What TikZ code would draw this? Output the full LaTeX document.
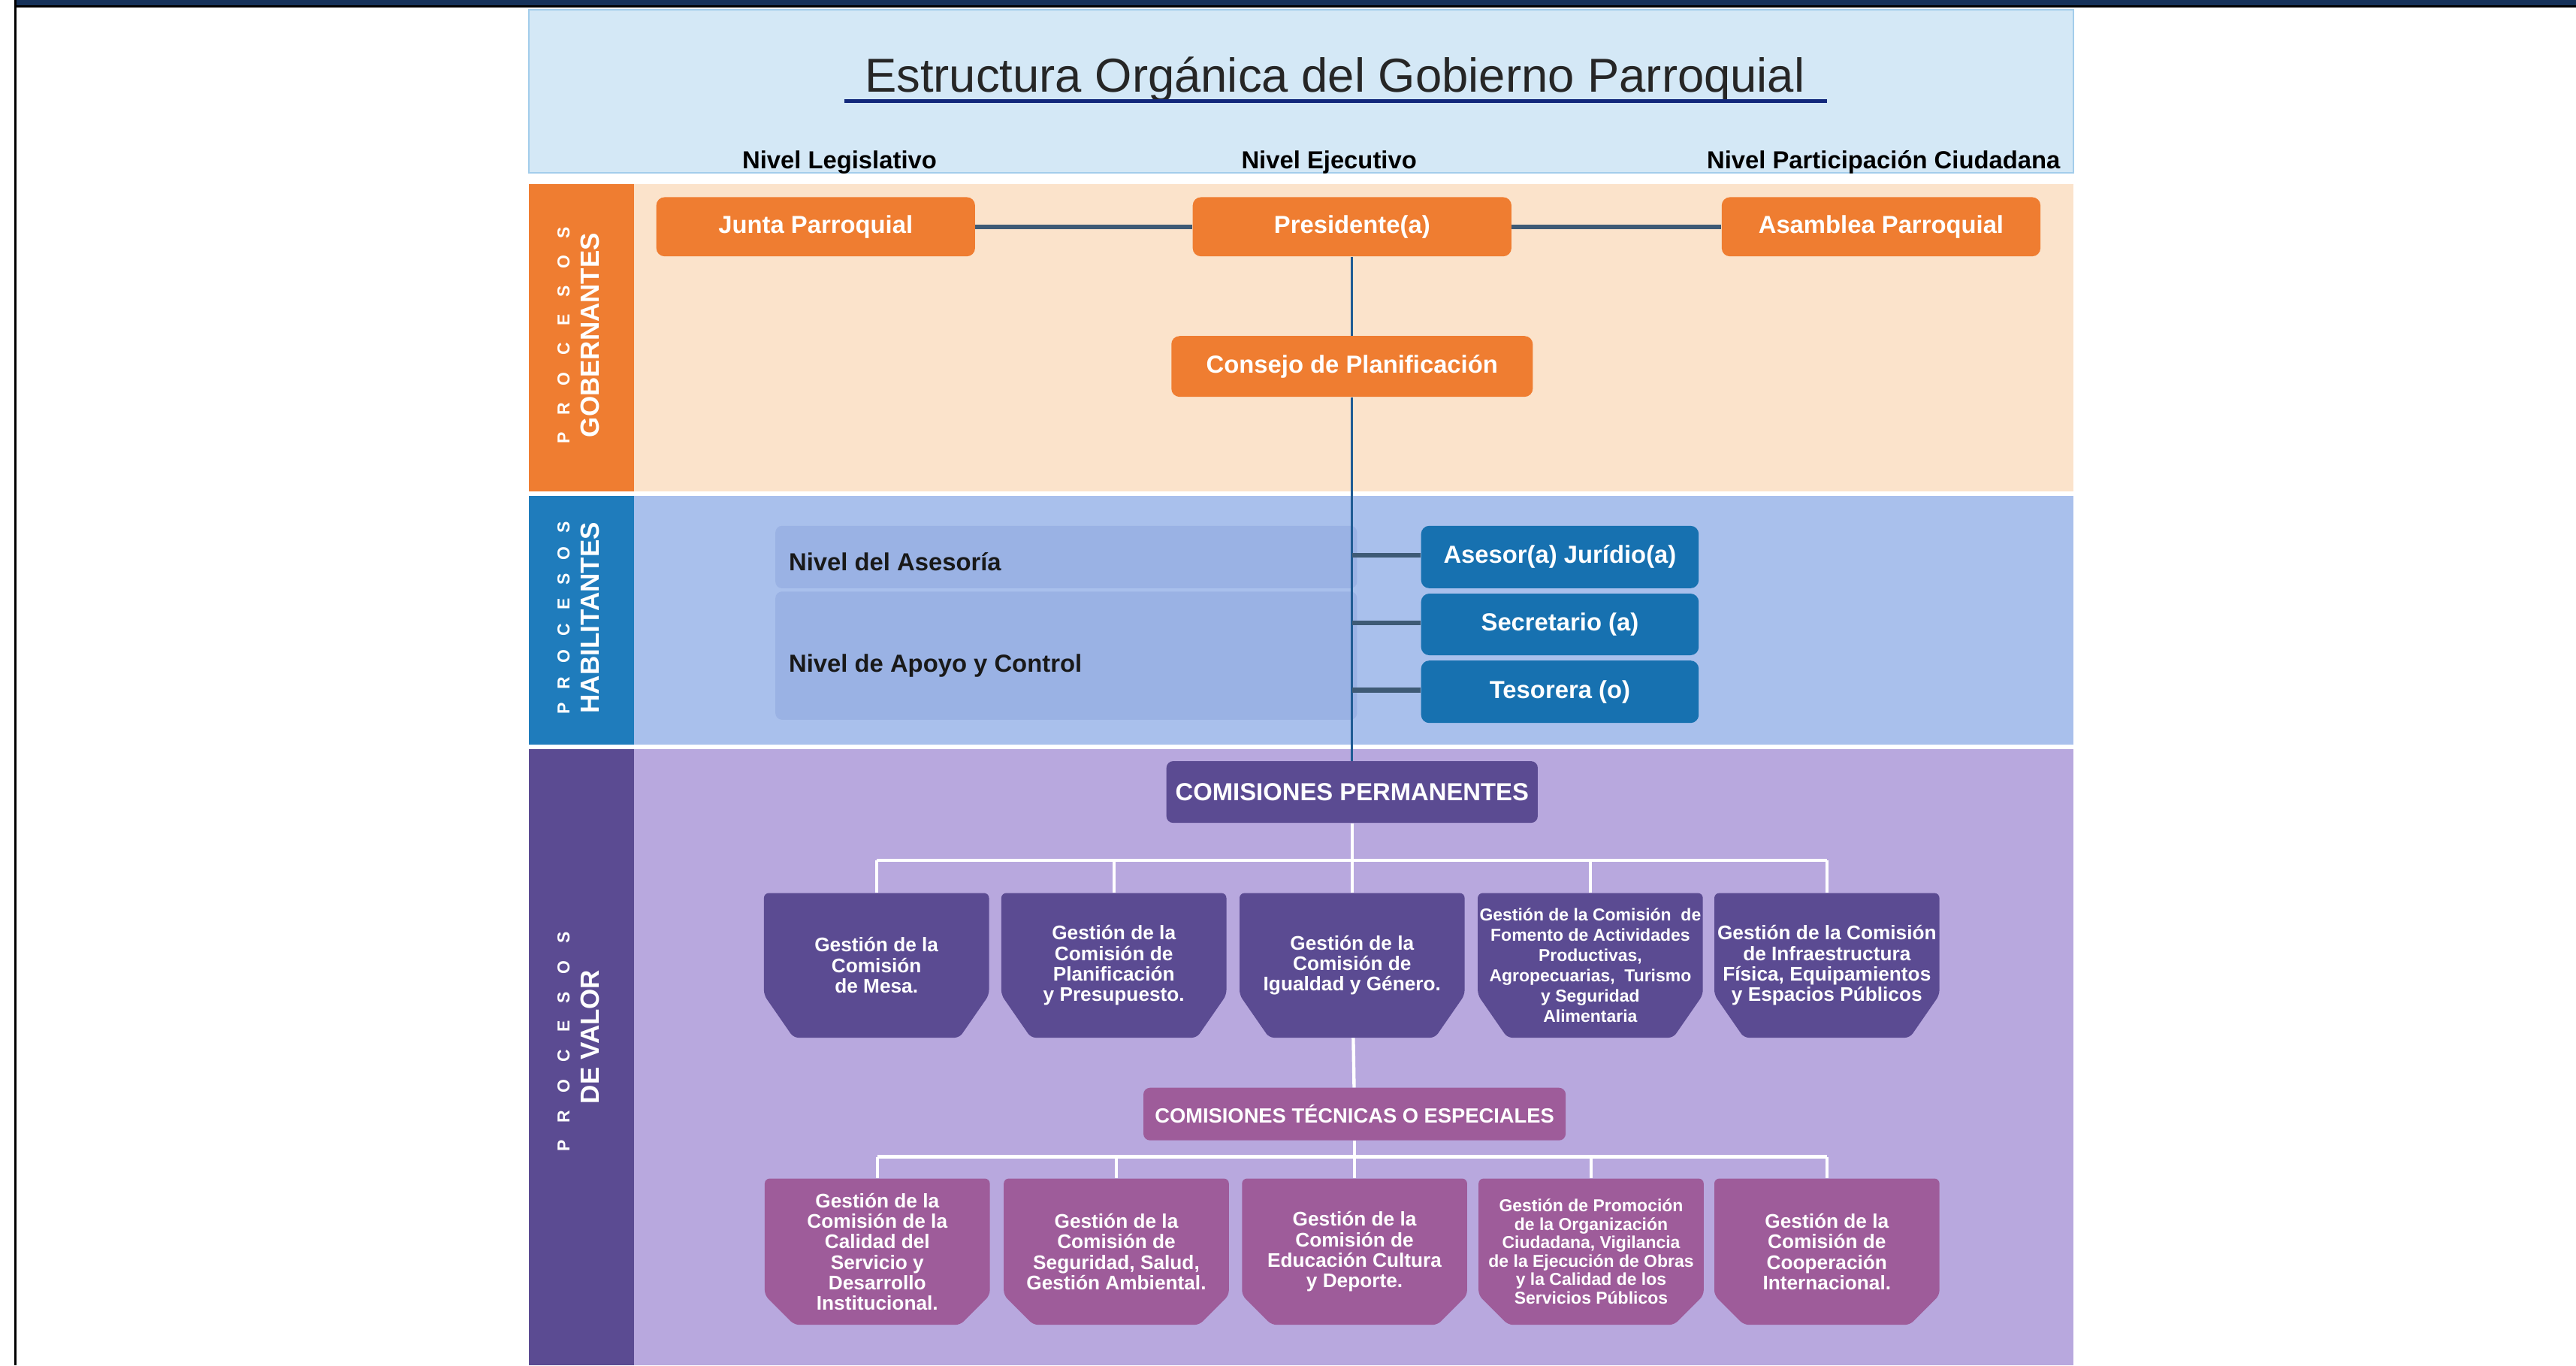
\documentclass[tikz,border=0pt]{standalone}
\usepackage{fontspec}
\setmainfont{Liberation Sans}
\definecolor{marino}{HTML}{16325A}
\definecolor{cabecera}{HTML}{D4E8F6}
\definecolor{cabeceraborde}{HTML}{A3CDEB}
\definecolor{melocoton}{HTML}{FBE3CB}
\definecolor{naranjo}{HTML}{EF7D31}
\definecolor{celeste}{HTML}{A9C0EC}
\definecolor{azulfranja}{HTML}{1F7CBC}
\definecolor{azulcaja}{HTML}{1771B0}
\definecolor{panel}{HTML}{9AB2E4}
\definecolor{lavanda}{HTML}{B8A8DE}
\definecolor{morado}{HTML}{5B4B92}
\definecolor{malva}{HTML}{9E5C9A}
\definecolor{pizarra}{HTML}{3E5A75}
\definecolor{espina}{HTML}{1F5C94}
\newcommand{\procesos}[1]{P\hspace{#1}R\hspace{#1}O\hspace{#1}C\hspace{#1}E\hspace{#1}S\hspace{#1}O\hspace{#1}S}

\begin{document}
\begin{tikzpicture}
    [every node/.style={inner sep=0pt},
     naranja/.style={rectangle, rounded corners=5pt, fill=naranjo, minimum width=194pt, minimum height=36pt, text=white, font=\fontsize{15}{18}\selectfont\bfseries},
     azul/.style={naranja, fill=azulcaja, minimum width=169pt, minimum height=38pt},
     caja/.style 2 args={rectangle, minimum width=137pt, minimum height=89pt, text=white, align=center, font=\fontsize{12}{12.5}\selectfont\bfseries,
         path picture={\fill [#1, rounded corners=3pt] (path picture bounding box.north west) -- (path picture bounding box.north east) -- ([yshift=#2]path picture bounding box.south east) -- ([xshift=-18pt]path picture bounding box.south east) -- ([xshift=18pt]path picture bounding box.south west) -- ([yshift=#2]path picture bounding box.south west) -- cycle;}},
     comision/.style={caja={morado}{26pt}, minimum height=88pt},
     tecnica/.style={caja={malva}{18pt}},
     chica/.style={font=\fontsize{10.5}{12.4}\selectfont\bfseries},
     franja/.style={rotate=90, text=white, font=\fontsize{16}{18}\selectfont\bfseries},
     nivel/.style={anchor=base, font=\fontsize{15}{18}\selectfont\bfseries},
     tramo/.style={line width=3pt, color=pizarra},
     blanca/.style={line width=2pt, color=white}]
        \useasboundingbox (0pt,0pt) rectangle (1568pt,-830.9pt);
        % marco de la pagina
        \fill [marino] (10pt,0pt) rectangle (1568pt,-3.2pt);
        \fill [black] (10pt,-3.2pt) rectangle (1568pt,-4.4pt);
        \fill [black] (8.6pt,0pt) rectangle (10pt,-830.9pt);
        % bandas
        \fill [cabecera, draw=cabeceraborde, line width=1pt] (322pt,-6pt) rectangle (1262pt,-105pt);
        \fill [naranjo] (322pt,-112pt) rectangle (386pt,-299pt);
        \fill [melocoton] (386pt,-112pt) rectangle (1262pt,-299pt);
        \fill [azulfranja] (322pt,-302pt) rectangle (386pt,-453pt);
        \fill [celeste] (386pt,-302pt) rectangle (1262pt,-453pt);
        \fill [morado] (322pt,-456pt) rectangle (386pt,-830.9pt);
        \fill [lavanda] (386pt,-456pt) rectangle (1262pt,-830.9pt);
        \fill [panel, rounded corners=4pt] (472pt,-320pt) rectangle (826pt,-358pt);
        \fill [panel, rounded corners=4pt] (472pt,-360pt) rectangle (826pt,-438pt);
        % textos
        \node (t) [anchor=base, text=black!85, font=\fontsize{29}{34}\selectfont] at (812.5pt, -56pt) {Estructura Orgánica del Gobierno Parroquial};
        \draw [line width=2.5pt, color=marino!80!blue] (514pt,-61.5pt) -- (1112pt,-61.5pt);
        \node (n1) [nivel] at (511pt, -102.5pt) {Nivel Legislativo};
        \node (n2) [nivel] at (809pt, -102.5pt) {Nivel Ejecutivo};
        \node (n3) [nivel] at (1146.5pt, -102.5pt) {Nivel Participación Ciudadana};
        \node (p1) [franja, font=\fontsize{10.5}{12}\selectfont\bfseries] at (343pt, -204pt) {\procesos{10.3pt}};
        \node (p2) [franja] at (359pt, -204pt) {GOBERNANTES};
        \node (p3) [franja, font=\fontsize{10.5}{12}\selectfont\bfseries] at (343pt, -376pt) {\procesos{8.3pt}};
        \node (p4) [franja] at (359pt, -376pt) {HABILITANTES};
        \node (p5) [franja, font=\fontsize{10.5}{12}\selectfont\bfseries] at (343pt, -634pt) {\procesos{10.6pt}};
        \node (p6) [franja] at (359pt, -631pt) {DE VALOR};
        \node (a1) [anchor=west, text=black!90, font=\fontsize{15}{18}\selectfont\bfseries] at (480pt, -342pt) {Nivel del Asesoría};
        \node (a2) [anchor=west, text=black!90, font=\fontsize{15}{18}\selectfont\bfseries] at (480pt, -405pt) {Nivel de Apoyo y Control};
        % procesos gobernantes y habilitantes
        \node (1) [naranja] at (496.5pt, -138pt) {Junta Parroquial};
        \node (2) [naranja] at (823pt, -138pt) {Presidente(a)};
        \node (3) [naranja] at (1145pt, -138pt) {Asamblea Parroquial};
        \node (4) [naranja, minimum width=220pt, minimum height=37pt] at (823pt, -223pt) {Consejo de Planificación};
        \node (5) [azul] at (949.5pt, -339pt) {Asesor(a) Jurídio(a)};
        \node (6) [azul, minimum height=37.5pt] at (949.5pt, -380pt) {Secretario (a)};
        \node (7) [azul] at (949.5pt, -421pt) {Tesorera (o)};
        % procesos de valor
        \node (8) [naranja, fill=morado, rounded corners=4pt, minimum width=226pt, minimum height=37.5pt] at (823pt, -482pt) {COMISIONES PERMANENTES};
        \node (9) [comision] at (533.5pt, -587.5pt) {Gestión de la\\Comisión\\de Mesa.};
        \node (10) [comision] at (678pt, -587.5pt) {Gestión de la\\Comisión de\\Planificación\\y Presupuesto.};
        \node (11) [comision] at (823pt, -587.5pt) {Gestión de la\\Comisión de\\Igualdad y Género.};
        \node (12) [comision, chica] at (968pt, -587.5pt) {Gestión de la Comisión\ \ de\\Fomento de Actividades\\Productivas,\\Agropecuarias,\ \ Turismo\\y Seguridad\\Alimentaria};
        \node (13) [comision] at (1112pt, -587.5pt) {Gestión de la Comisión\\de Infraestructura\\Física, Equipamientos\\y Espacios Públicos};
        \node (14) [naranja, fill=malva, rounded corners=4pt, minimum width=257pt, minimum height=32pt, font=\fontsize{12.5}{15}\selectfont\bfseries] at (824.5pt, -678pt) {COMISIONES TÉCNICAS O ESPECIALES};
        \node (15) [tecnica] at (534pt, -761.75pt) {Gestión de la\\Comisión de la\\Calidad del\\Servicio y\\Desarrollo\\Institucional.};
        \node (16) [tecnica] at (679.5pt, -761.75pt) {Gestión de la\\Comisión de\\Seguridad, Salud,\\Gestión Ambiental.};
        \node (17) [tecnica] at (824.5pt, -761.75pt) {Gestión de la\\Comisión de\\Educación Cultura\\y Deporte.};
        \node (18) [tecnica, font=\fontsize{10.5}{11.2}\selectfont\bfseries] at (968.5pt, -761.75pt) {Gestión de Promoción\\de la Organización\\Ciudadana, Vigilancia\\de la Ejecución de Obras\\y la Calidad de los\\Servicios Públicos};
        \node (19) [tecnica] at (1112pt, -761.75pt) {Gestión de la\\Comisión de\\Cooperación\\Internacional.};
        \coordinate (c1) at (823pt, -338pt);
        \coordinate (c2) at (823pt, -379pt);
        \coordinate (c3) at (823pt, -420pt);
        \coordinate (b1) at (823pt, -523.5pt);
        \coordinate (b2) at (824.5pt, -704pt);
        \draw [tramo] (1) to (2);
        \draw [tramo] (2) to (3);
        \draw [line width=1.5pt, color=espina] (2) to (4);
        \draw [line width=1.5pt, color=espina] (4) to (8);
        \draw [tramo] (c1) to (c1 -| 5.west);
        \draw [tramo] (c2) to (c2 -| 6.west);
        \draw [tramo] (c3) to (c3 -| 7.west);
        \draw [blanca] (8) to (b1);
        \draw [blanca] (b1 -| 9.north) to (b1 -| 13.north);
        \foreach \i in {9,...,13}
            \draw [blanca] (b1 -| \i.north) to (\i.north);
        \draw [blanca] (11) to (14);
        \draw [blanca] (14) to (b2);
        \draw [blanca] (b2 -| 15.north) to (b2 -| 19.north);
        \foreach \i in {15,...,19}
            \draw [blanca] (b2 -| \i.north) to (\i.north);
    \end{tikzpicture}
\end{document}
